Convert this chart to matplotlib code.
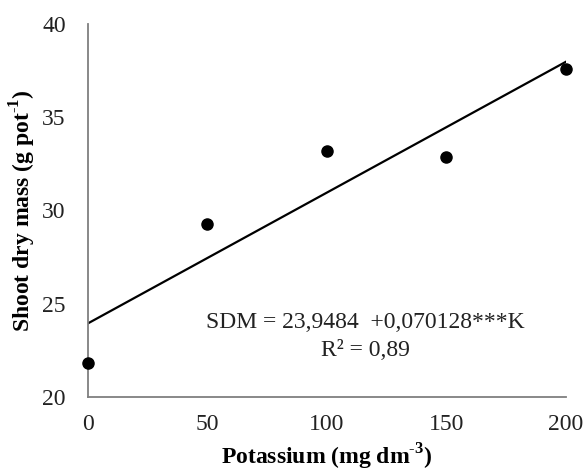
import matplotlib
matplotlib.use("Agg")
import matplotlib.pyplot as plt

# Data
potassium = [0, 50, 100, 150, 200]
sdm = [21.8, 29.3, 33.2, 32.85, 37.6]
intercept = 23.9484
slope = 0.070128
x_ticks = [0, 50, 100, 150, 200]
y_ticks = [20, 25, 30, 35, 40]

plt.rcParams['font.family'] = ['Liberation Serif', 'DejaVu Serif']
plt.rcParams['mathtext.fontset'] = 'custom'
plt.rcParams['mathtext.rm'] = 'Liberation Serif'
plt.rcParams['mathtext.bf'] = 'Liberation Serif:bold'

fig = plt.figure(figsize=(5.84, 4.73), dpi=100)
ax = fig.add_axes([0.1507, 0.1607, 0.8183, 0.7886])

# Linear fit line
fit_x = [potassium[0], potassium[-1]]
fit_y = [intercept + slope * x for x in fit_x]
ax.plot(fit_x, fit_y, color='black', linewidth=1.6, zorder=2)
ax.scatter(potassium, sdm, s=64, color='black', zorder=3, clip_on=False)

ax.set_xlim(0, 200)
ax.set_ylim(20, 40)
ax.set_xticks(x_ticks)
ax.set_yticks(y_ticks)
ax.tick_params(length=0, labelsize=17, colors='#222222')
ax.tick_params(axis='x', pad=12)
ax.tick_params(axis='y', pad=16)

for side in ['top', 'right']:
    ax.spines[side].set_visible(False)
for side in ['left', 'bottom']:
    ax.spines[side].set_color('#7f7f7f')
    ax.spines[side].set_linewidth(1.3)

ax.set_xlabel(r'Potassium (mg dm$^{\mathbf{\text{-}3}}$)', fontsize=17, fontweight='bold', labelpad=5)
ax.set_ylabel(r'Shoot dry mass (g pot$^{\mathbf{\text{-}1}}$)', fontsize=17, fontweight='bold', labelpad=3)

ax.text(115.9, 24.0, 'SDM = 23,9484  +0,070128***K', ha='center', va='center', fontsize=17, color='#222222')
ax.text(115.9, 22.5, 'R² = 0,89', ha='center', va='center', fontsize=17, color='#222222')

fig.savefig('out.png', dpi=100)
